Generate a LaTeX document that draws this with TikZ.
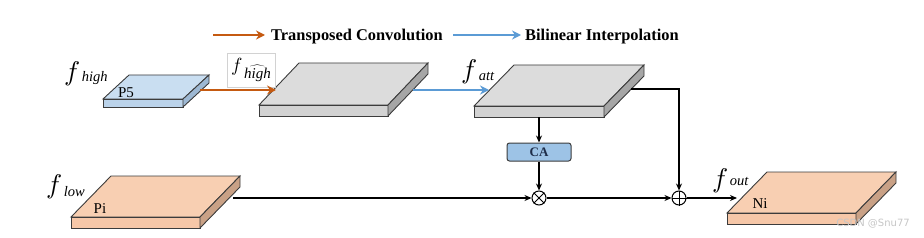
\documentclass[tikz,border=0pt]{standalone}
\usepackage{fontspec}
\setmainfont{Liberation Serif}
\newfontfamily\wmfont{DejaVu Sans}
\usetikzlibrary{arrows.meta}
\definecolor{arrOr}{HTML}{C55A11}
\definecolor{arrBl}{HTML}{5B9BD5}
\definecolor{blTop}{HTML}{C9DEF1}
\definecolor{blFr}{HTML}{BBD3EA}
\definecolor{blSd}{HTML}{9DB8D3}
\definecolor{grTop}{HTML}{DCDCDC}
\definecolor{grFr}{HTML}{D2D2D2}
\definecolor{grSd}{HTML}{A6A6A6}
\definecolor{orTop}{HTML}{F8CFB2}
\definecolor{orFr}{HTML}{F6C7A8}
\definecolor{orSd}{HTML}{C9A186}
\definecolor{caFill}{HTML}{9DC3E6}
\definecolor{edgeC}{HTML}{3C3C3C}
\definecolor{caText}{HTML}{1F2E4A}
\newcommand\myslab[8]{%
  \draw[slabedge, fill=#8Top] (#2,#3) -- ++(#5,-#6) -- ++(#4,0) -- ++(-#5,#6) -- cycle;
  \draw[slabedge, fill=#8Fr] (#2,#3) rectangle ++(#4,#7);
  \draw[slabedge, fill=#8Sd] (#2,#3) ++(#4,0) -- ++(#5,-#6) -- ++(0,#7) -- ++(-#5,#6) -- cycle;
  \coordinate (#1) at (#2,#3);}
\newcommand\bigf{\scalebox{2.7}{$f$}}
\newcommand\flab[2]{\bigf\kern1.5pt\raisebox{#2}{\fontsize{14.5}{14.5}\selectfont\itshape #1}}
\newcommand\flabhat[1]{\scalebox{1.9}{$f$}\kern1.5pt\raisebox{-8pt}{\fontsize{15}{15}\selectfont$\widehat{\hbox{\itshape #1}}$}}
\begin{document}
\begin{tikzpicture}[x=1pt,y=-1pt,
  slabedge/.style={draw=edgeC, line width=0.9pt, line join=miter},
  conn/.style={line width=1.4pt, -{Stealth[length=7pt,width=6pt]}},
  orarrow/.style={arrOr, line width=2.4pt, -{Stealth[length=9pt,width=9pt]}},
  blarrow/.style={arrBl, line width=2.4pt, -{Stealth[length=9pt,width=9pt]}},
  legtext/.style={font=\bfseries\fontsize{16.4}{16.4}\selectfont, inner sep=0pt},
  slabtext/.style={font=\fontsize{15}{15}\selectfont, inner sep=0pt},
  flabel/.style={inner sep=0pt},
  opnode/.style={circle, draw, line width=1pt, minimum size=14pt, inner sep=0pt},
  cabox/.style={rounded corners=2.5pt, fill=caFill, draw=edgeC, line width=1pt, minimum width=64pt, minimum height=18pt, inner sep=0pt, text=caText, font=\bfseries\fontsize{13}{13}\selectfont}]
\useasboundingbox (0,0) rectangle (924,238);
% slabs
\myslab{p5}{103}{99}{80}{26}{24}{8}{bl}
\myslab{g1}{259}{105}{129}{40}{42}{11}{gr}
\myslab{att}{474}{106}{130}{40}{41}{11}{gr}
\myslab{pi}{71}{217}{129}{40}{41}{11}{or}
\myslab{ni}{727}{213}{129}{40}{41}{11}{or}
% legend
\coordinate (lo1) at (213,35);
\coordinate (lo2) at (265,35);
\draw[orarrow] (lo1) -- (lo2);
\node[legtext, anchor=base west] (lt1) at (271,40.5) {Transposed Convolution};
\coordinate (lb1) at (453,35);
\coordinate (lb2) at (521,35);
\draw[blarrow] (lb1) -- (lb2);
\node[legtext, anchor=base west] (lt2) at (525,40.5) {Bilinear Interpolation};
% slab texts
\node[slabtext] (tp5) at (126,93) {P5};
\node[slabtext] (tpi) at (100,209) {Pi};
\node[slabtext] (tni) at (760,204) {Ni};
% f labels
\node[flabel, anchor=base west] (fh) at (64,81) {\flab{high}{-1pt}};
\node[draw=gray!35, line width=0.6pt, inner sep=0pt, minimum width=48pt, minimum height=34pt] (fhh) at (251,70) {\flabhat{high}};
\node[flabel, anchor=base west] (fa) at (461,78) {\flab{att}{-2pt}};
\node[flabel, anchor=base west] (fl) at (46,193) {\flab{low}{-3pt}};
\node[flabel, anchor=base west] (fo) at (712,187) {\flab{out}{2pt}};
% operators
\node[cabox] (ca) at (539,152) {CA};
\node[opnode] (ot) at (539,198) {};
\draw[line width=1pt] (ot.45) -- (ot.225) (ot.135) -- (ot.315);
\node[opnode] (op) at (679,198) {};
\draw[line width=1pt] (op.north) -- (op.south) (op.east) -- (op.west);
% connectors
\coordinate (p5o) at (200,90);
\coordinate (g1i) at (276,90);
\draw[orarrow] (p5o) -- (g1i);
\coordinate (g1o) at (413,90);
\coordinate (atti) at (489,90);
\draw[blarrow] (g1o) -- (atti);
\coordinate (attb) at (539,117);
\draw[conn] (attb) -- (ca);
\draw[conn] (ca) -- (ot);
\coordinate (pio) at (233,198);
\draw[conn] (pio) -- (ot);
\draw[conn] (ot) -- (op);
\coordinate (attr) at (631,89);
\draw[conn] (attr) -| (op);
\coordinate (nii) at (737,198);
\draw[conn] (op) -- (nii);
% watermark
\node[text=gray!45, font=\wmfont\fontsize{10}{10}\selectfont, inner sep=0pt] (wm) at (873,224) {CSDN @Snu77};
\end{tikzpicture}
\end{document}
